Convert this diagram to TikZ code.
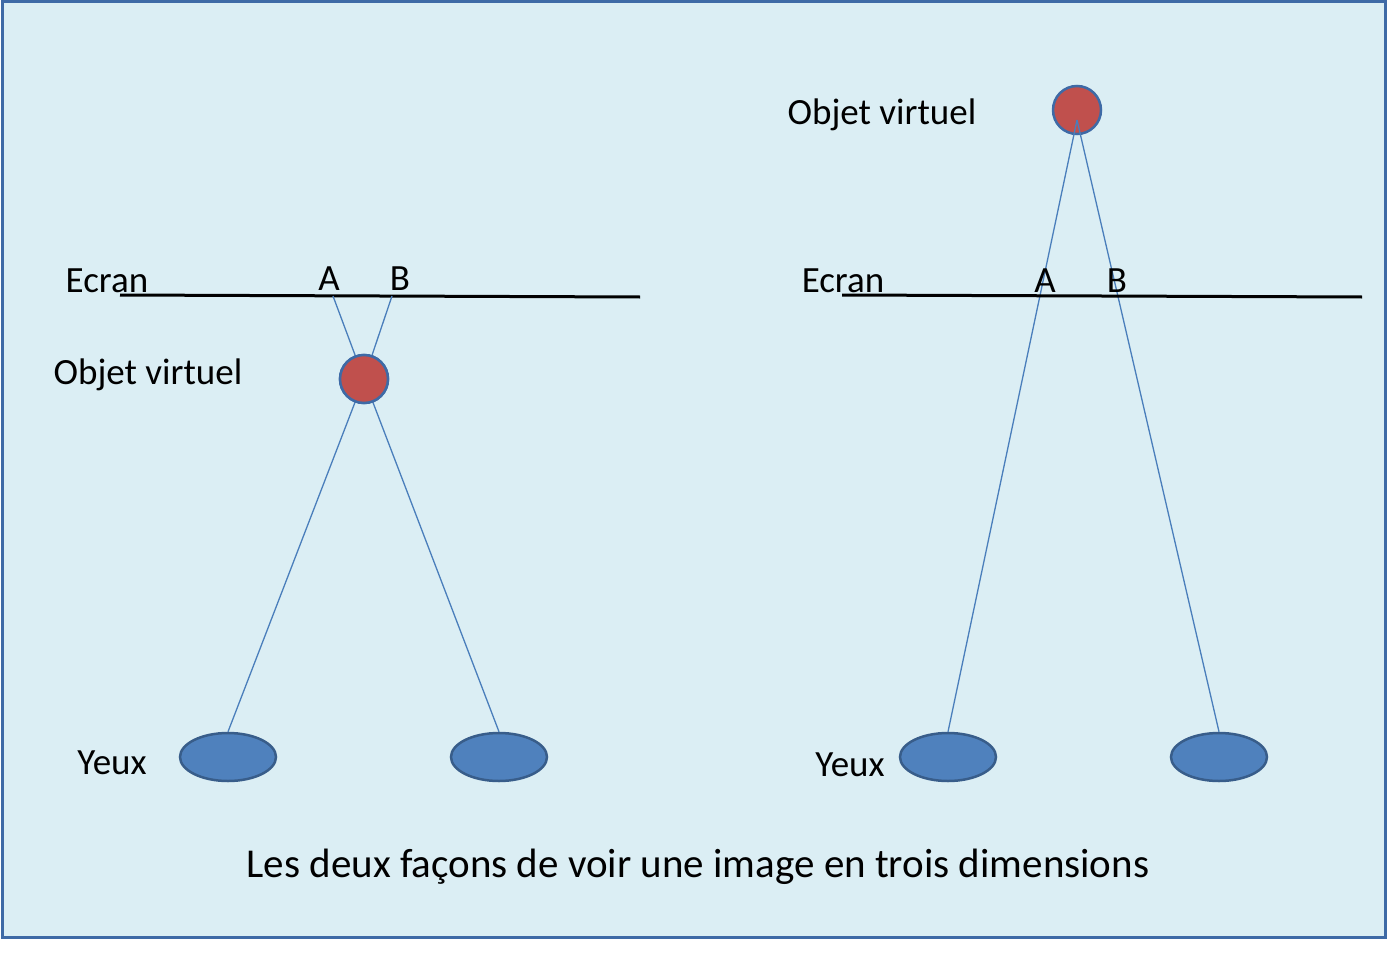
\documentclass[tikz,border=0pt]{standalone}
\usepackage{fontspec}
\setmainfont{Carlito}
\usetikzlibrary{shapes.geometric}
\definecolor{bg}{HTML}{DBEEF4}
\definecolor{frame}{HTML}{3E6AA6}
\definecolor{ball}{HTML}{C0504D}
\definecolor{eyef}{HTML}{4F81BD}
\definecolor{eyed}{HTML}{385D8A}
\definecolor{ray}{HTML}{4A7EBB}
\begin{document}
\begin{tikzpicture}[x=1pt,y=-1pt,
  lbl/.style={font=\fontsize{37}{42}\selectfont,inner sep=0pt},
  eye/.style={ellipse,draw=eyed,line width=2.5pt,fill=eyef,minimum width=96,minimum height=48,inner sep=0pt},
  obj/.style={circle,draw=frame,line width=2.5pt,fill=ball,minimum size=48,inner sep=0pt},
  scr/.style={line width=3pt,black},
  rayl/.style={ray,line width=1.3pt}]
\useasboundingbox (0,0) rectangle (1388,960);
\draw[frame,line width=3pt,fill=bg] (2,2) rectangle (1385,937);
% left
\coordinate (s1a) at (120,295); \coordinate (s1b) at (640,297);
\draw[scr] (s1a) -- (s1b);
\node[lbl] (ec1) at (107,281) {Ecran};
\node[lbl] (a1) at (329,279) {A};
\node[lbl] (b1) at (400,279) {B};
\node[obj] (o1) at (364,379) {};
\node[lbl] (ov1) at (148,375) {Objet virtuel};
\node[eye] (e1) at (228,757) {};
\node[eye] (e2) at (499,757) {};
\node[lbl] (y1) at (112,763) {Yeux};
\coordinate (pa1) at (333,296); \coordinate (pb1) at (392,296);
\draw[rayl] (pa1) -- (o1.center);
\draw[rayl] (pb1) -- (o1.center);
\draw[rayl] (o1.center) -- (e1.north);
\draw[rayl] (o1.center) -- (e2.north);
\node[obj] at (364,379) {};
% right
\node[obj] (o2) at (1077,110) {};
\coordinate (c2) at (1077,120);
\node[eye] (e3) at (948,757) {};
\node[eye] (e4) at (1219,757) {};
\draw[rayl] (c2) -- (e3.north);
\draw[rayl] (c2) -- (e4.north);
\coordinate (s2a) at (842,295); \coordinate (s2b) at (1362,297);
\draw[scr] (s2a) -- (s2b);
\node[lbl] (ec2) at (843,281) {Ecran};
\node[lbl] (a2) at (1045,281) {A};
\node[lbl] (b2) at (1117,281) {B};
\node[lbl] (ov2) at (882,115) {Objet virtuel};
\node[lbl] (y2) at (850,765) {Yeux};
\node[lbl,font=\fontsize{41}{46}\selectfont] (cap) at (698,867) {Les deux façons de voir une image en trois dimensions};
\end{tikzpicture}
\end{document}
